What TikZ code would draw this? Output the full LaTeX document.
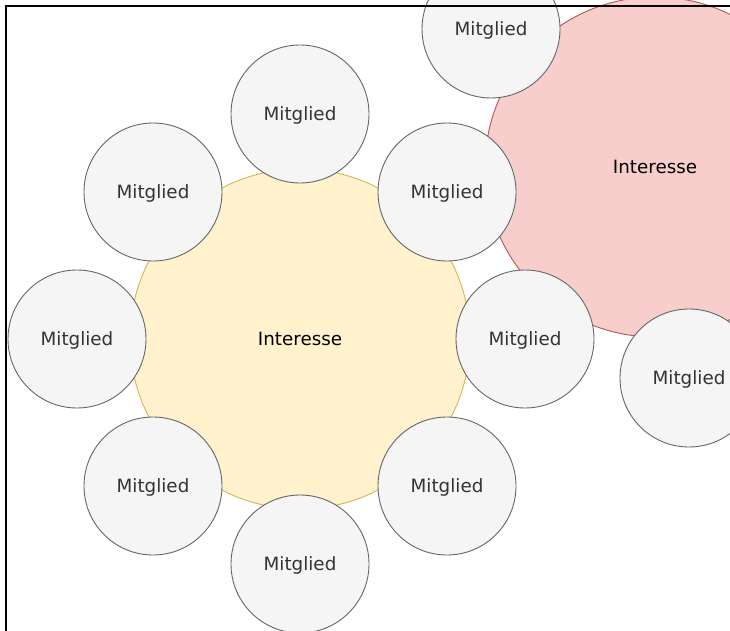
\documentclass[tikz,border=0pt]{standalone}
\usepackage{fontspec}
\setmainfont{DejaVu Sans}
\definecolor{ylwfill}{HTML}{FFF2CC}
\definecolor{ylwline}{HTML}{D6B656}
\definecolor{redfill}{HTML}{F8CECC}
\definecolor{redline}{HTML}{B85450}
\definecolor{memfill}{HTML}{F5F5F5}
\definecolor{memline}{HTML}{666666}
\definecolor{memtext}{HTML}{333333}
\begin{document}
\begin{tikzpicture}[x=1pt,y=-1pt,
  member/.style={circle,draw=memline,fill=memfill,line width=0.9pt,minimum size=138pt,inner sep=0pt,text=memtext,font=\fontsize{18.3}{20}\selectfont,text height=13.3pt,text depth=0pt},
  interest/.style={circle,line width=0.9pt,minimum size=340pt,inner sep=0pt,text=black,font=\fontsize{18.3}{20}\selectfont,text height=13.3pt,text depth=0pt}]
\useasboundingbox (0,0) rectangle (730,631);
\clip (0,0) rectangle (730,631);
\fill[white] (0,0) rectangle (730,631);
% interest circles
\node[interest,draw=ylwline,fill=ylwfill] (i1) at (300,339) {Interesse};
\node[interest,draw=redline,fill=redfill] (i2) at (655,167) {Interesse};
% members of first interest
\node[member] (a1) at (300,114) {Mitglied};
\node[member] (a2) at (447,192) {Mitglied};
\node[member] (a3) at (525,339) {Mitglied};
\node[member] (a4) at (447,486) {Mitglied};
\node[member] (a5) at (300,564) {Mitglied};
\node[member] (a6) at (153,486) {Mitglied};
\node[member] (a7) at (77,339) {Mitglied};
\node[member] (a8) at (153,192) {Mitglied};
% members of second interest
\node[member] (b1) at (491,29) {Mitglied};
\node[member] (b2) at (689,378) {Mitglied};
% frame
\draw[line width=2.8pt] (6,645) -- (6,6) -- (745,6);
\end{tikzpicture}
\end{document}
